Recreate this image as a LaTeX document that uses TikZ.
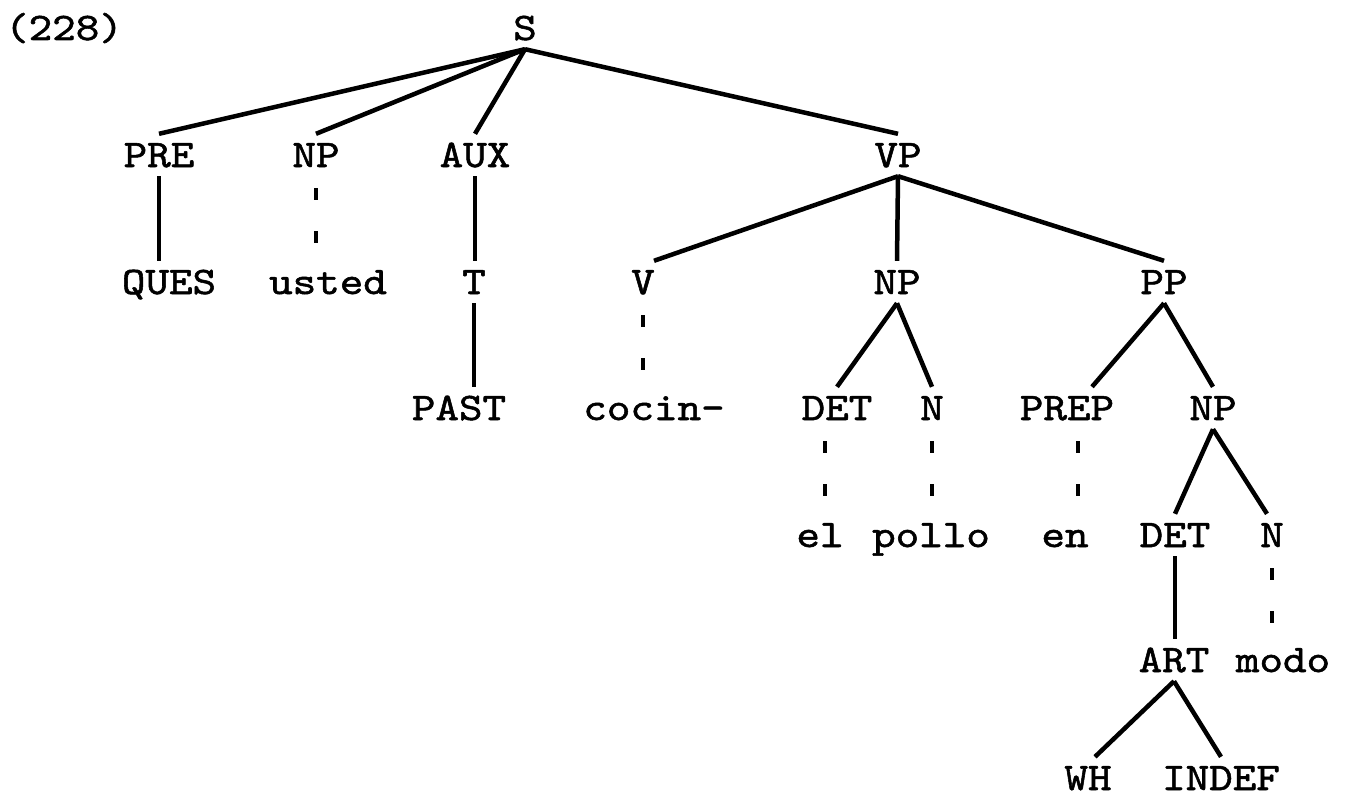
\documentclass[tikz,border=0pt]{standalone}
\usepackage{fontspec}
\newfontfamily\treefont{lmmono10-regular.otf}[FakeStretch=1.15,FakeBold=1.4]
\begin{document}
\begin{tikzpicture}[x=1pt,y=-1pt]
		\tikzstyle{cat}=[font=\treefont\fontsize{39}{39}\selectfont, inner xsep=0pt, inner ysep=9pt, text height=24pt, text depth=0pt, anchor=base]
		\tikzstyle{branch}=[line width=4.5pt]
		\tikzstyle{lex}=[line width=4.5pt, shorten <=12pt, dash pattern=on 12pt off 31pt]
		\useasboundingbox (0,0) rectangle (1346,800);
		\node[cat] (num) at (64,40) {(228)};
		\node[cat] (S) at (525,40) {S};
		\node[cat] (PRE) at (159,167) {PRE};
		\node[cat] (NPa) at (316,167) {NP};
		\node[cat] (AUX) at (475,167) {AUX};
		\node[cat] (VP) at (898,167) {VP};
		\node[cat] (QUES) at (169,294) {QUES};
		\node[cat] (usted) at (328,294) {usted};
		\node[cat] (T) at (474,294) {T};
		\node[cat] (V) at (643,294) {V};
		\node[cat] (NPb) at (897,294) {NP};
		\node[cat] (PP) at (1164,294) {PP};
		\node[cat] (PAST) at (459,420) {PAST};
		\node[cat] (cocin) at (654,420) {cocin-};
		\node[cat] (DETa) at (837,420) {DET};
		\node[cat] (Na) at (932,420) {N};
		\node[cat] (PREP) at (1067,420) {PREP};
		\node[cat] (NPc) at (1213,420) {NP};
		\node[cat] (el) at (820,547) {el};
		\node[cat] (pollo) at (931,547) {pollo};
		\node[cat] (en) at (1065,547) {en};
		\node[cat] (DETb) at (1175,547) {DET};
		\node[cat] (Nb) at (1272,547) {N};
		\node[cat] (ART) at (1174,672) {ART};
		\node[cat] (modo) at (1283,672) {modo};
		\node[cat] (WH) at (1088,790) {WH};
		\node[cat] (INDEF) at (1221,790) {INDEF};
		\draw[branch] (S.south) -- (PRE.north);
		\draw[branch] (S.south) -- (NPa.north);
		\draw[branch] (S.south) -- (AUX.north);
		\draw[branch] (S.south) -- (VP.north);
		\draw[branch] (PRE.south) -- (PRE.south |- QUES.north);
		\draw[lex] (NPa.south) -- (NPa.south |- usted.north);
		\draw[branch] (AUX.south) -- (AUX.south |- T.north);
		\draw[branch] (T.south) -- (T.south |- PAST.north);
		\draw[branch] (VP.south) -- ([xshift=11pt]V.north);
		\draw[branch] (VP.south) -- (NPb.north);
		\draw[branch] (VP.south) -- (PP.north);
		\draw[lex] (V.south) -- (V.south |- cocin.north);
		\draw[branch] (NPb.south) -- (DETa.north);
		\draw[branch] (NPb.south) -- (Na.north);
		\draw[branch] (PP.south) -- ([xshift=25pt]PREP.north);
		\draw[branch] (PP.south) -- (NPc.north);
		\draw[lex] ([xshift=-12pt]DETa.south) -- ([xshift=-12pt]DETa.south |- el.north);
		\draw[lex] (Na.south) -- (Na.south |- pollo.north);
		\draw[lex] ([xshift=11pt]PREP.south) -- ([xshift=11pt]PREP.south |- en.north);
		\draw[branch] (NPc.south) -- (DETb.north);
		\draw[branch] (NPc.south) -- ([xshift=-5pt]Nb.north);
		\draw[branch] (DETb.south) -- (DETb.south |- ART.north);
		\draw[lex] (Nb.south) -- (Nb.south |- modo.north);
		\draw[branch] (ART.south) -- ([xshift=7pt]WH.north);
		\draw[branch] (ART.south) -- (INDEF.north);
	\end{tikzpicture}
\end{document}
